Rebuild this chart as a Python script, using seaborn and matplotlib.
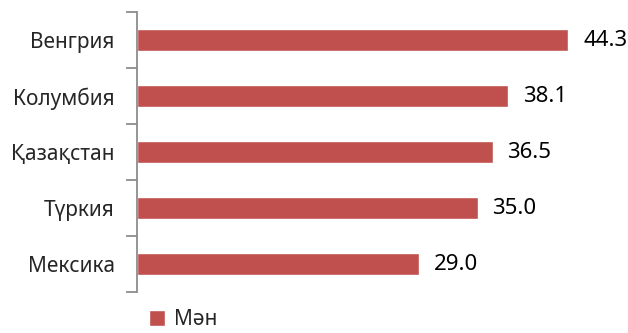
import matplotlib
matplotlib.use("Agg")
import matplotlib.pyplot as plt
import seaborn as sns
import pandas as pd
from matplotlib.ticker import FixedLocator

categories = ["Венгрия", "Колумбия", "Қазақстан", "Түркия", "Мексика"]
values = [44.3, 38.1, 36.5, 35.0, 29.0]
series_name = "Мән"

sns.set_style("white")
plt.rcParams['font.family'] = ['Noto Sans', 'DejaVu Sans']

df = pd.DataFrame({"country": categories, "value": values})

fig = plt.figure(figsize=(6.28, 3.33), dpi=100)
ax = fig.add_axes([137/628, 1 - 292/333, 487/628, 280/333])

sns.barplot(data=df, x="value", y="country", orient="h", color="#C0504D",
            width=0.4, ax=ax, label=series_name, saturation=1)

ax.set_xlim(0, 50)
ax.set_ylim(len(categories) - 0.5, -0.5)
ax.set_xlabel("")
ax.set_ylabel("")
ax.set_xticks([])
for s in ["top", "right", "bottom"]:
    ax.spines[s].set_visible(False)
ax.spines["left"].set_color("#8c8c8c")
ax.spines["left"].set_linewidth(1.3)
ax.yaxis.set_minor_locator(FixedLocator([i - 0.5 for i in range(len(categories) + 1)]))
ax.tick_params(axis="y", which="major", left=True, length=0, pad=16, labelsize=15, labelcolor="#262626")
ax.tick_params(axis="y", which="minor", left=True, length=8, width=1.3, color="#8c8c8c")

for i, v in enumerate(values):
    ax.text(v + 1.5, i, f"{v:.1f}", va="center", ha="left", fontsize=16, color="black")

if ax.legend_:
    ax.legend_.remove()
handles, labels = ax.get_legend_handles_labels()
fig.legend(handles[:1], labels[:1], loc="lower left", bbox_to_anchor=(130/628, -0.048),
           frameon=False, fontsize=15, handlelength=0.8, handleheight=0.8,
           handletextpad=0.4, labelcolor="#262626")

fig.savefig("out.png", dpi=100)
